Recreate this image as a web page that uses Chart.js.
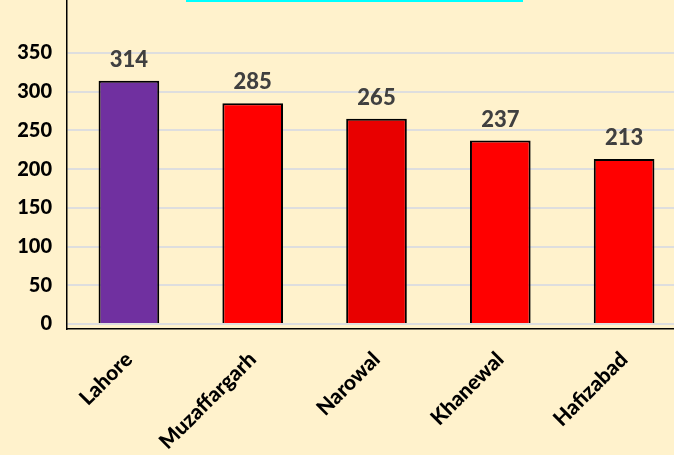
<!DOCTYPE html>
<html>
<head>
<meta charset="utf-8">
<script src="https://cdn.jsdelivr.net/npm/chart.js@4"></script>
<style>
  html, body { margin: 0; padding: 0; background: #FFF2CC; overflow: hidden; }
  #wrap { width: 674px; height: 455px; overflow: hidden; }
</style>
</head>
<body>
<div id="wrap"><canvas id="myChart" width="686" height="480"></canvas></div>
<script>
var districts = ['Lahore', 'Muzaffargarh', 'Narowal', 'Khanewal', 'Hafizabad'];
var counts = [314, 285, 265, 237, 213];
var barColors = ['#7030A0', '#FF0000', '#E80000', '#FF0000', '#FF0000'];
var yTicks = [0, 50, 100, 150, 200, 250, 300, 350];

// value labels above each bar
var valueLabels = {
    id: 'valueLabels',
    afterDatasetsDraw: function (chart) {
        var ctx = chart.ctx;
        var meta = chart.getDatasetMeta(0);
        ctx.save();
        ctx.font = '900 22px Lato';
        ctx.fillStyle = '#404040';
        ctx.textAlign = 'center';
        ctx.textBaseline = 'middle';
        meta.data.forEach(function (bar, i) {
            ctx.fillText(counts[i], bar.x, bar.y - 21);
        });
        ctx.restore();
    }
};

// cyan remnant of the title box at the top edge
var topStripe = {
    id: 'topStripe',
    afterDraw: function (chart) {
        var ctx = chart.ctx;
        ctx.save();
        ctx.fillStyle = '#00FFFF';
        ctx.fillRect(186, 0, 337, 2);
        ctx.restore();
    }
};

var ctx = document.getElementById('myChart').getContext('2d');
var myChart = new Chart(ctx, {
    type: 'bar',
    data: {
        labels: districts,
        datasets: [{
            data: counts,
            backgroundColor: barColors,
            borderColor: '#000000',
            borderWidth: 2,
            borderSkipped: 'bottom',
            barPercentage: 0.49,
            categoryPercentage: 1
        }]
    },
    options: {
        responsive: false,
        animation: false,
        layout: { padding: 0 },
        plugins: {
            legend: { display: false },
            tooltip: { enabled: false }
        },
        scales: {
            x: {
                grid: { display: false, drawTicks: false },
                border: { display: true, color: '#000000', width: 1.5 },
                ticks: {
                    color: '#000000',
                    font: { family: 'Lato', weight: '900', size: 21 },
                    maxRotation: 45,
                    minRotation: 45,
                    padding: 18
                },
                afterFit: function (scale) {
                    scale.height = 151;
                    scale.paddingLeft = 0;
                    scale.paddingRight = 0;
                }
            },
            y: {
                min: -6.5,
                max: 418.4,
                afterBuildTicks: function (scale) {
                    scale.ticks = yTicks.map(function (v) { return { value: v }; });
                },
                grid: { color: '#DEDEDE', lineWidth: 2, drawTicks: false },
                border: { display: true, color: '#000000', width: 1.5 },
                ticks: {
                    color: '#000000',
                    font: { family: 'Lato', weight: '900', size: 20 },
                    padding: 15
                },
                afterFit: function (scale) {
                    scale.width = 67;
                    scale.paddingTop = 0;
                    scale.paddingBottom = 0;
                }
            }
        }
    },
    plugins: [valueLabels, topStripe]
});
</script>
</body>
</html>
